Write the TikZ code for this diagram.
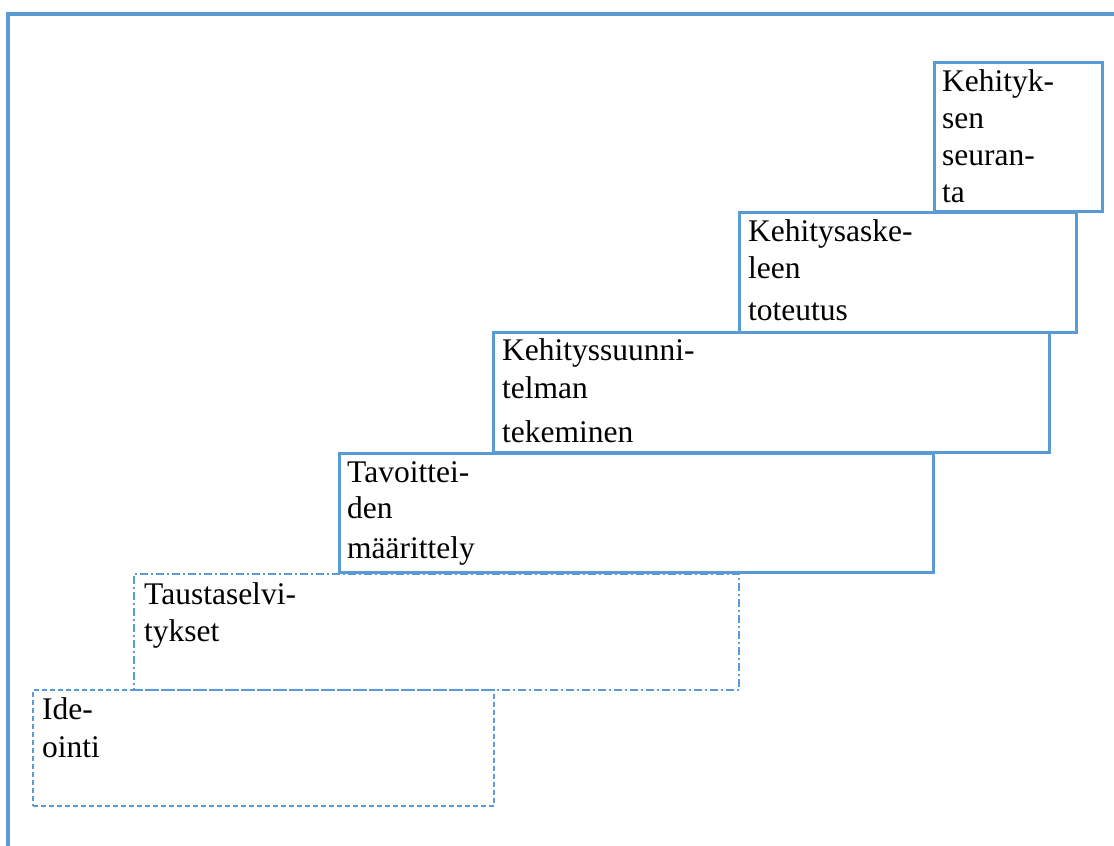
\documentclass[tikz,border=0pt]{standalone}
\usepackage{fontspec}
\setmainfont{Liberation Serif}
\definecolor{stepblue}{HTML}{5B9BD5}
\begin{document}
\begin{tikzpicture}[x=1pt,y=-1pt,
  frameline/.style={draw=stepblue, line width=4pt, miter limit=10},
  stepbox/.style={draw=stepblue, line width=3pt, anchor=north west, inner sep=0pt},
  dashbox/.style={stepbox, line width=2pt, dash pattern=on 5pt off 3pt},
  dotbox/.style={stepbox, line width=2.2pt, dash pattern=on 8pt off 3pt on 2pt off 3pt},
  lbl/.style={font=\fontsize{31.5}{37}\selectfont, align=left, anchor=base west, inner sep=0pt}]
\useasboundingbox (0,0) rectangle (1114,846);
% frame
\coordinate (fb) at (8,846);
\coordinate (fc) at (8,14);
\coordinate (fr) at (1114,14);
\draw[frameline] (fb) -- (fc) -- (fr);
% steps
\node[dotbox, minimum width=605pt, minimum height=116pt] (tau) at (133,573) {};
\node[dashbox, minimum width=461pt, minimum height=116pt] (ide) at (32,689) {};
\node[stepbox, minimum width=594pt, minimum height=119pt] (tav) at (338,452) {};
\node[stepbox, minimum width=556pt, minimum height=120pt] (ksu) at (492,331) {};
\node[stepbox, minimum width=337pt, minimum height=120pt] (kas) at (738,211) {};
\node[stepbox, minimum width=168pt, minimum height=149pt] (kse) at (933,61) {};
% labels (anchored at the baseline of the last line)
\node[lbl] (ideT) at ([xshift=10pt,yshift=-68pt]ide.north west) {Ide-\\[1pt]ointi};
\node[lbl] (tauT) at ([xshift=11pt,yshift=-68pt]tau.north west) {Taustaselvi-\\tykset};
\node[lbl] (tavT) at ([xshift=9pt,yshift=-106pt]tav.north west) {Tavoittei-\\[-1pt]den\\[3pt]määrittely};
\node[lbl] (ksuT) at ([xshift=10pt,yshift=-111pt]ksu.north west) {Kehityssuunni-\\[1pt]telman\\[7pt]tekeminen};
\node[lbl] (kasT) at ([xshift=10pt,yshift=-109pt]kas.north west) {Kehitysaske-\\leen\\[5pt]toteutus};
\node[lbl] (kseT) at ([xshift=9pt,yshift=-141pt]kse.north west) {Kehityk-\\sen\\seuran-\\ta};
\end{tikzpicture}
\end{document}
